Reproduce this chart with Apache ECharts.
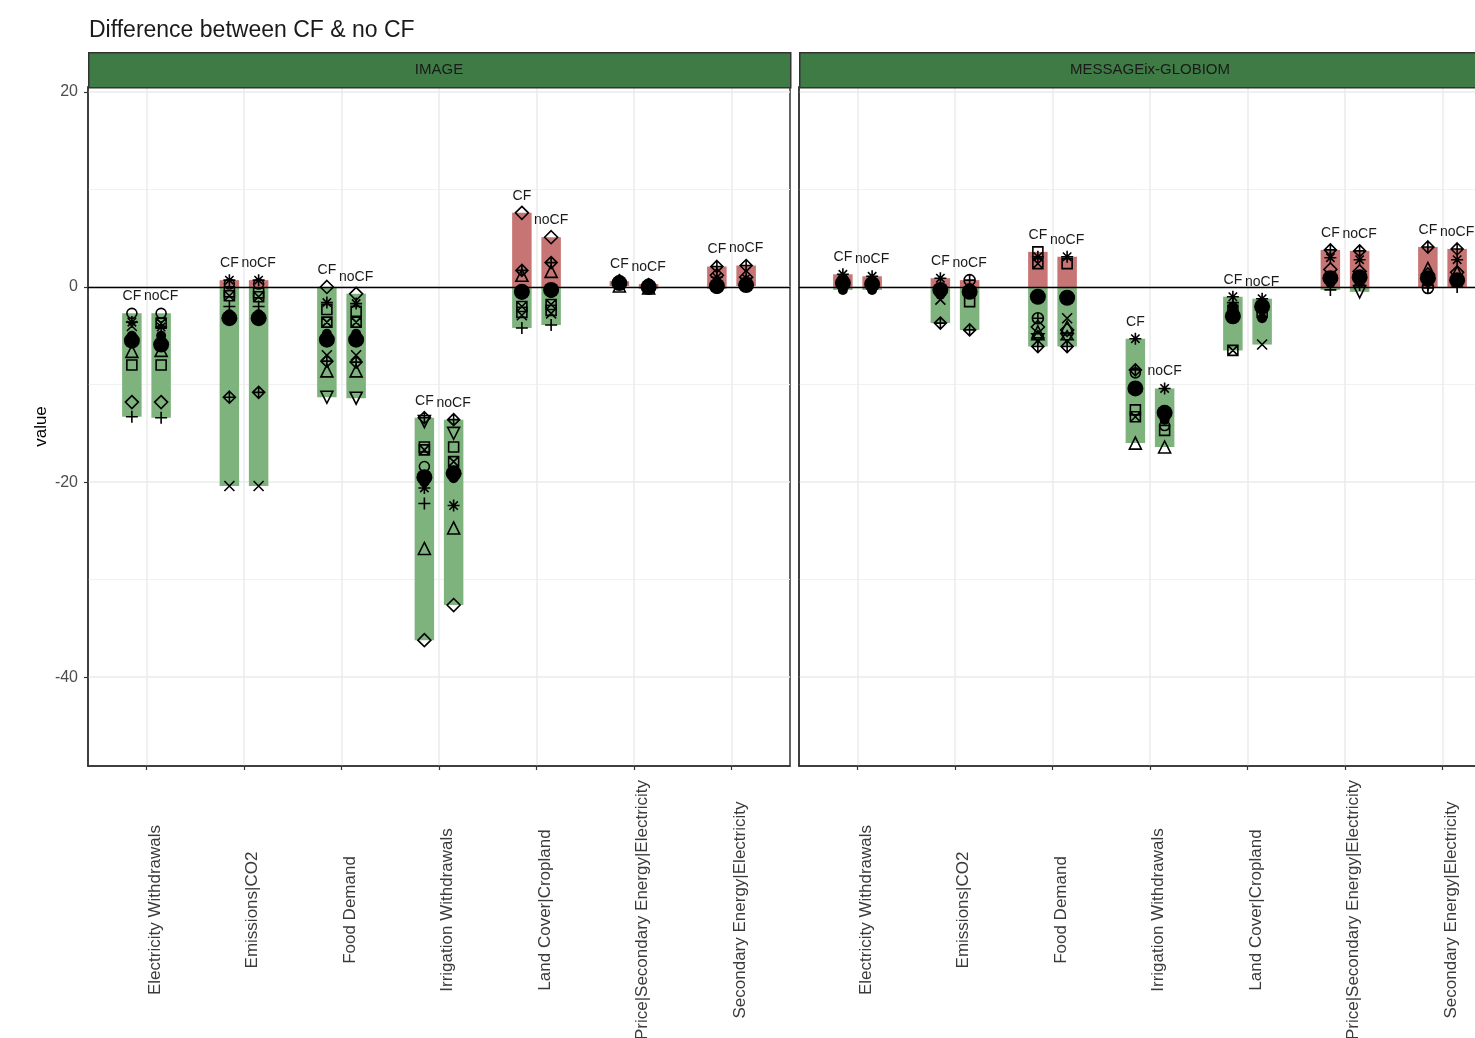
<!DOCTYPE html>
<html><head><meta charset="utf-8">
<script src="https://cdn.jsdelivr.net/npm/echarts@6/dist/echarts.min.js"></script>
<style>html,body{margin:0;padding:0;background:#fff}#c{width:1475px;height:1038px}</style>
</head><body><div id="c"></div>
<script>
// ---------- DATA ----------
const categories = ['Electricity Withdrawals','Emissions|CO2','Food Demand','Irrigation Withdrawals','Land Cover|Cropland','Price|Secondary Energy|Electricity','Secondary Energy|Electricity'];
const models = ['IMAGE','MESSAGEix-GLOBIOM'];
const cases = ['CF','noCF'];
const yTicks = [-40,-20,0,20];
const yMinor = [-30,-10,10];
// Each array: IMAGE (7 categories x [CF, noCF]) then MESSAGEix-GLOBIOM (same order)
const diamondVals = [-11.8,-11.8, null,null, 0.0,-0.7, -36.2,-32.6, 7.6,5.1, 0.6,0.2, 1.2,1.0,
                     null,null, null,null, -4.1,-4.4, null,null, null,null, 1.8,1.6, 1.3,1.5];
const plusVals = [-13.3,-13.4, -2.0,-2.0, null,null, -22.2,null, -4.2,-3.9, 0.4,-0.2, 0.3,0.5,
                  0.1,0.0, null,null, null,null, null,null, -1.6,-1.8, -0.3,0.2, 0.2,0.0];
const triangleVals = [-6.6,-6.5, null,null, -8.6,-8.6, -26.8,-24.7, 1.2,1.6, 0.1,-0.1, 0.6,0.6,
                      null,null, null,null, -4.6,-4.1, -16.0,-16.4, null,null, null,null, 1.9,1.5];
const squareVals = [-8.0,-8.0, -0.5,-0.6, -2.3,-2.5, -16.4,-16.4, -2.6,-2.4, null,null, null,null,
                    null,null, null,-1.5, 3.6,2.4, -12.6,-14.7, -2.4,-2.6, null,null, null,null];
const crossVals = [-4.0,null, -20.4,-20.4, -7.0,-7.0, null,null, -2.9,-2.7, null,null, null,null,
                   null,null, -1.3,null, null,-3.2, null,null, null,-5.9, null,null, null,null];
const asteriskVals = [-3.6,-4.1, 0.7,0.7, -1.6,-1.7, -20.6,-22.4, null,null, 0.3,0.0, 1.0,0.9,
                      1.3,1.1, 0.9,null, 3.1,3.1, -5.3,-10.4, -1.0,-1.2, 3.0,2.8, null,2.8];
const downTriangleVals = [null,null, null,null, -11.3,-11.4, -13.8,-15.0, null,null, null,null, null,null,
                          null,null, null,null, null,null, null,null, null,null, null,-0.5, null,null];
const diamondPlusVals = [null,null, -11.3,-10.8, -7.6,-7.7, -13.4,-13.6, 1.7,2.5, null,null, 2.1,2.2,
                         null,null, -3.7,-4.4, -6.1,-6.1, -8.5,null, null,null, 3.8,3.7, 4.1,3.9];
const circleOpenVals = [-2.7,-2.7, 0.3,0.3, null,null, -18.4,null, null,null, 0.5,0.3, null,null,
                        0.8,0.5, null,null, null,null, -8.8,-14.2, null,null, null,null, null,null];
const squareCrossVals = [null,-3.7, -0.9,-1.0, -3.6,-3.6, -16.7,-17.9, -2.0,-1.8, null,null, null,null,
                         null,null, null,null, 2.4,null, -13.3,null, -6.5,null, null,null, null,null];
const circlePlusVals = [null,null, null,null, null,null, null,null, null,null, null,null, null,null,
                        null,null, null,0.7, -3.2,null, null,null, null,null, null,null, -0.1,null];
const starVals = [null,null, null,null, null,null, null,null, null,null, null,null, null,null,
                  null,null, null,null, -5.1,-5.1, null,null, null,null, null,null, null,null];
const dotVals = [-5.0,-5.0, -2.8,-2.8, -4.8,-4.8, -20.0,-19.6, -0.8,-0.6, 0.2,0.1, -0.2,0.1,
                 -0.3,-0.3, -0.8,-0.1, null,null, null,-13.6, -2.0,-3.2, 0.4,0.5, 0.5,0.4];
const meanVals = [-5.5,-5.9, -3.2,-3.2, -5.4,-5.4, -19.5,-19.1, -0.5,-0.3, 0.4,0.0, 0.1,0.2,
                  0.4,0.3, -0.3,-0.5, -1.0,-1.1, -10.4,-12.9, -3.0,-2.0, 0.9,1.0, 0.9,0.7];

// ---------- STYLE ----------
const FONT = "'Liberation Sans', Arial, sans-serif";
const POS_FILL = '#c77574';
const NEG_FILL = '#7fb37e';
const BAR_W = 0.2;
const DODGE = 0.15;
const Y_MIN = -49.1, Y_MAX = 20.5;

const shapes = [
  {vals: diamondVals, symbol: 'diamond', size: 13, filled: false},
  {vals: plusVals, symbol: 'path://M5,0L5,10M0,5L10,5', size: 12, filled: false},
  {vals: triangleVals, symbol: 'triangle', size: 12, filled: false},
  {vals: squareVals, symbol: 'rect', size: 10, filled: false},
  {vals: crossVals, symbol: 'path://M0,0L10,10M10,0L0,10', size: 10, filled: false},
  {vals: asteriskVals, symbol: 'path://M5,0L5,10M0,5L10,5M1.5,1.5L8.5,8.5M8.5,1.5L1.5,8.5', size: 12, filled: false},
  {vals: downTriangleVals, symbol: 'path://M0,0L10,0L5,9Z', size: 12, filled: false},
  {vals: diamondPlusVals, symbol: 'path://M5,0L10,5L5,10L0,5ZM5,0L5,10M0,5L10,5', size: 12, filled: false},
  {vals: circleOpenVals, symbol: 'circle', size: 10, filled: false},
  {vals: squareCrossVals, symbol: 'path://M0,0L10,0L10,10L0,10ZM0,0L10,10M10,0L0,10', size: 10, filled: false},
  {vals: circlePlusVals, symbol: 'path://M5,0A5,5,0,1,1,4.99,0ZM5,0L5,10M0,5L10,5', size: 11, filled: false},
  {vals: starVals, symbol: 'path://M5,0L9.33,7.5L0.67,7.5ZM5,10L0.67,2.5L9.33,2.5Z', size: 12, filled: false},
  {vals: dotVals, symbol: 'circle', size: 10, filled: true},
  {vals: meanVals, symbol: 'circle', size: 16, filled: true}
];

function xPos(i) { return Math.floor(i / 2) + (i % 2 === 0 ? -DODGE : DODGE); }

// ---------- BUILD ----------
const grids = [], xAxes = [], yAxes = [], series = [];
const gridLefts = [88, 799];
models.forEach((m, g) => {
  grids.push({left: gridLefts[g], top: 87, width: 702, height: 679, show: true,
    borderColor: '#333', borderWidth: 1.5, backgroundColor: 'transparent', outerBoundsMode: 'none', containLabel: false});
  xAxes.push({type: 'value', gridIndex: g, min: -0.6, max: 6.6,
    axisLine: {show: true, onZero: false, lineStyle: {color: '#333', width: 1.5}},
    axisTick: {show: true, length: 4, customValues: categories.map((c, i) => i), lineStyle: {color: '#333', width: 1.2}},
    axisLabel: {customValues: categories.map((c, i) => i), formatter: v => categories[Math.round(v)] || '',
      rotate: 90, align: 'center', verticalAlign: 'top', margin: 144, fontSize: 17, color: '#3a3a3a', fontFamily: FONT},
    splitLine: {show: true, lineStyle: {color: '#ebebeb', width: 1.5}}
  });
  yAxes.push({type: 'value', gridIndex: g, min: Y_MIN, max: Y_MAX, position: 'left',
    name: g === 0 ? 'value' : '', nameLocation: 'middle', nameGap: 38,
    nameTextStyle: {fontSize: 17, color: '#000', fontFamily: FONT},
    axisLine: {show: true, onZero: false, lineStyle: {color: '#333', width: 1.5}},
    axisTick: {show: g === 0, length: 4, customValues: yTicks, lineStyle: {color: '#333', width: 1.2}},
    axisLabel: {show: g === 0, customValues: yTicks, fontSize: 16, color: '#4d4d4d', margin: 10, fontFamily: FONT},
    splitLine: {show: true, lineStyle: {color: '#ebebeb', width: 1.5}}
  });
  yAxes.push({type: 'value', gridIndex: g, min: Y_MIN, max: Y_MAX, position: 'right',
    axisLine: {show: false}, axisTick: {show: false, customValues: yMinor},
    axisLabel: {show: false, customValues: yMinor},
    splitLine: {show: true, lineStyle: {color: '#f1f1f1', width: 1}}
  });

  // range bars
  const barData = [];
  for (let i = 0; i < 14; i++) {
    const vs = shapes.map(s => s.vals[g * 14 + i]).filter(v => v !== null && v !== undefined);
    barData.push([xPos(i), Math.min(...vs), Math.max(...vs)]);
  }
  series.push({type: 'custom', xAxisIndex: g, yAxisIndex: g * 2, z: 2, silent: true,
    data: barData,
    renderItem: (params, api) => {
      const x = api.value(0), lo = api.value(1), hi = api.value(2);
      const w = api.size([BAR_W, 0])[0];
      const kids = [];
      if (hi > 0) {
        const a = api.coord([x, hi]), b = api.coord([x, Math.max(lo, 0)]);
        kids.push({type: 'rect', shape: {x: a[0] - w / 2, y: a[1], width: w, height: b[1] - a[1]}, style: {fill: POS_FILL}});
      }
      if (lo < 0) {
        const a = api.coord([x, Math.min(hi, 0)]), b = api.coord([x, lo]);
        kids.push({type: 'rect', shape: {x: a[0] - w / 2, y: a[1], width: w, height: b[1] - a[1]}, style: {fill: NEG_FILL}});
      }
      return {type: 'group', children: kids};
    }
  });
  // zero line
  series.push({type: 'line', xAxisIndex: g, yAxisIndex: g * 2, z: 3, data: [], silent: true,
    markLine: {silent: true, symbol: 'none', label: {show: false}, animation: false,
      lineStyle: {color: '#000', width: 1.4, type: 'solid'}, data: [{yAxis: 0}]}
  });
  // points
  shapes.forEach(s => {
    const d = [];
    for (let i = 0; i < 14; i++) {
      const v = s.vals[g * 14 + i];
      if (v !== null && v !== undefined) d.push([xPos(i), v]);
    }
    series.push({type: 'scatter', xAxisIndex: g, yAxisIndex: g * 2, z: 4, silent: true,
      symbol: s.symbol, symbolSize: s.size, data: d,
      itemStyle: s.filled ? {color: '#000', opacity: 1} : {color: 'transparent', borderColor: '#000', borderWidth: 1.6, opacity: 1}
    });
  });
  // CF / noCF labels
  series.push({type: 'custom', xAxisIndex: g, yAxisIndex: g * 2, z: 5, silent: true,
    data: barData,
    renderItem: (params, api) => {
      const p = api.coord([api.value(0), api.value(2)]);
      return {type: 'text', x: p[0], y: p[1] - 17,
        style: {text: cases[params.dataIndex % 2], fill: '#1a1a1a', font: '14px ' + FONT, align: 'center', verticalAlign: 'middle'}};
    }
  });
});

const chart = echarts.init(document.getElementById('c'), null, {renderer: 'canvas'});
chart.setOption({
  animation: false,
  backgroundColor: '#fff',
  title: {text: 'Difference between CF & no CF', left: 84, top: 14,
    textStyle: {fontSize: 23, fontWeight: 'normal', color: '#1a1a1a', fontFamily: FONT}},
  grid: grids, xAxis: xAxes, yAxis: yAxes, series: series,
  graphic: [
    {type: 'rect', left: 88, top: 52, shape: {width: 702, height: 35}, style: {fill: '#3f7b45', stroke: '#333', lineWidth: 1.5}, z: 10},
    {type: 'text', x: 439, y: 70, style: {text: models[0], fill: '#1a1a1a', font: '15px ' + FONT, align: 'center', verticalAlign: 'middle'}, z: 11},
    {type: 'rect', left: 799, top: 52, shape: {width: 702, height: 35}, style: {fill: '#3f7b45', stroke: '#333', lineWidth: 1.5}, z: 10},
    {type: 'text', x: 1150, y: 70, style: {text: models[1], fill: '#1a1a1a', font: '15px ' + FONT, align: 'center', verticalAlign: 'middle'}, z: 11}
  ]
});
</script></body></html>
